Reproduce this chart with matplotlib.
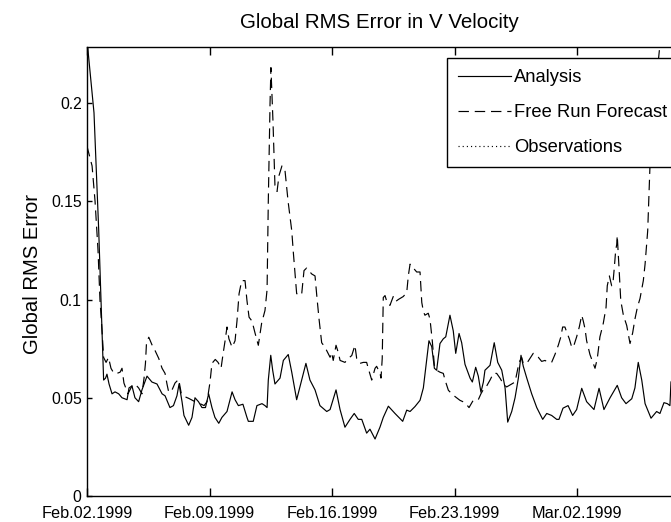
import matplotlib
matplotlib.use("Agg")
import matplotlib.pyplot as plt
from matplotlib import font_manager as fm
from matplotlib.ticker import FixedLocator

# ---------------- data ----------------
# time in days since Feb.02.1999 00:00
analysis_days = [0.00, 0.40, 0.67, 0.86, 0.95, 1.06, 1.14, 1.26, 1.43, 1.60, 1.81, 2.00, 2.29, 2.40,
                 2.57, 2.74, 2.95, 3.14, 3.43, 3.71, 4.00, 4.29, 4.46, 4.74, 4.94, 5.14, 5.26, 5.43,
                 5.54, 5.81, 6.00, 6.17, 6.37, 6.57, 6.77, 6.95, 7.14, 7.31, 7.53, 7.71, 8.00, 8.29,
                 8.46, 8.65, 8.91, 9.14, 9.22, 9.50, 9.71, 10.00, 10.17, 10.29, 10.36, 10.50, 10.61,
                 10.74, 11.03, 11.22, 11.50, 11.70, 11.98, 12.27, 12.51, 12.74, 13.03, 13.31, 13.70,
                 13.89, 14.23, 14.46, 14.74, 15.03, 15.27, 15.50, 15.70, 15.98, 16.17, 16.46, 16.74,
                 16.93, 17.22, 17.60, 18.04, 18.27, 18.46, 18.74, 19.03, 19.22, 19.41, 19.54, 19.70,
                 19.85, 19.98, 20.17, 20.36, 20.50, 20.74, 20.93, 21.07, 21.26, 21.41, 21.60, 21.89,
                 22.02, 22.21, 22.36, 22.51, 22.65, 22.74, 23.03, 23.27, 23.47, 23.70, 23.89, 24.04,
                 24.27, 24.46, 24.65, 24.80, 24.93, 25.13, 25.41, 25.70, 26.04, 26.27, 26.55, 26.84,
                 26.97, 27.20, 27.49, 27.75, 27.98, 28.27, 28.55, 28.97, 29.26, 29.54, 29.89, 30.30,
                 30.55, 30.80, 31.13, 31.31, 31.50, 31.70, 31.89, 32.23, 32.55, 32.74, 32.97, 33.16,
                 33.31, 33.37, 33.49]
analysis_rms = [0.232, 0.195, 0.135, 0.084, 0.059, 0.060, 0.062, 0.057, 0.052, 0.053, 0.052, 0.050,
                0.049, 0.055, 0.056, 0.050, 0.048, 0.054, 0.061, 0.058, 0.057, 0.052, 0.051, 0.045,
                0.046, 0.051, 0.057, 0.048, 0.041, 0.036, 0.040, 0.050, 0.048, 0.045, 0.045, 0.052,
                0.045, 0.040, 0.037, 0.040, 0.043, 0.053, 0.049, 0.046, 0.0467, 0.040, 0.038, 0.038,
                0.046, 0.047, 0.046, 0.045, 0.059, 0.0716, 0.064, 0.057, 0.060, 0.069, 0.072, 0.063,
                0.049, 0.059, 0.0675, 0.059, 0.054, 0.046, 0.043, 0.044, 0.054, 0.044, 0.035, 0.039,
                0.042, 0.039, 0.039, 0.032, 0.034, 0.029, 0.035, 0.040, 0.0457, 0.042, 0.038, 0.0437,
                0.043, 0.0455, 0.0487, 0.055, 0.069, 0.079, 0.076, 0.065, 0.064, 0.0776, 0.080, 0.081,
                0.092, 0.084, 0.0726, 0.0827, 0.078, 0.067, 0.060, 0.058, 0.0655, 0.061, 0.0528, 0.058,
                0.064, 0.0665, 0.078, 0.068, 0.064, 0.055, 0.0376, 0.043, 0.050, 0.060, 0.0716, 0.066,
                0.060, 0.052, 0.045, 0.039, 0.042, 0.041, 0.039, 0.039, 0.0447, 0.046, 0.041, 0.044,
                0.0548, 0.048, 0.044, 0.0548, 0.044, 0.050, 0.0563, 0.050, 0.047, 0.0495, 0.055, 0.068,
                0.059, 0.047, 0.0396, 0.043, 0.042, 0.0475, 0.047, 0.046, 0.058, 0.060]

forecast_days = [0.00, 0.29, 0.46, 0.63, 0.74, 0.86, 0.95, 1.09, 1.23, 1.37, 1.54, 1.71, 1.89, 2.00,
                 2.11, 2.34, 2.57, 2.74, 2.95, 3.14, 3.26, 3.34, 3.40, 3.53, 3.71, 3.89, 4.10, 4.29,
                 4.46, 4.57, 4.67, 4.86, 5.03, 5.24, 5.39, 5.60, 5.81, 6.17, 6.46, 6.69, 6.86, 7.03,
                 7.14, 7.33, 7.49, 7.66, 7.77, 7.89, 8.00, 8.11, 8.29, 8.46, 8.57, 8.69, 8.84, 9.03,
                 9.14, 9.26, 9.43, 9.60, 9.79, 9.98, 10.17, 10.29, 10.36, 10.46, 10.51, 10.63, 10.74,
                 10.86, 10.97, 11.14, 11.31, 11.49, 11.70, 11.79, 11.89, 11.98, 12.17, 12.27, 12.40,
                 12.55, 12.84, 13.03, 13.14, 13.26, 13.41, 13.60, 13.89, 13.98, 14.07, 14.23, 14.36,
                 14.46, 14.74, 14.93, 15.13, 15.31, 15.41, 15.60, 15.79, 15.98, 16.07, 16.27, 16.46,
                 16.55, 16.74, 16.80, 16.87, 16.93, 17.03, 17.13, 17.31, 17.50, 17.64, 17.79, 18.07,
                 18.27, 18.36, 18.46, 18.65, 18.84, 19.03, 19.13, 19.22, 19.31, 19.50, 19.60, 19.66,
                 19.73, 19.85, 19.98, 20.17, 20.36, 20.46, 20.65, 20.93, 21.31, 21.60, 21.83, 22.07,
                 22.36, 22.51, 22.70, 22.84, 23.03, 23.22, 23.41, 23.60, 23.79, 23.98, 24.27, 24.46,
                 24.69, 24.84, 24.93, 25.13, 25.31, 25.50, 25.79, 25.98, 26.17, 26.36, 26.55, 26.74,
                 26.93, 27.07, 27.18, 27.31, 27.43, 27.56, 27.70, 27.79, 27.98, 28.13, 28.27, 28.36,
                 28.46, 28.55, 28.74, 28.93, 29.03, 29.16, 29.31, 29.50, 29.66, 29.73, 29.85, 29.98,
                 30.06, 30.13, 30.21, 30.27, 30.30, 30.36, 30.42, 30.50, 30.65, 30.84, 31.03, 31.18,
                 31.31, 31.45, 31.60, 31.79, 31.89, 31.98, 32.04, 32.17, 32.46, 32.80, 33.03]
forecast_rms = [0.178, 0.168, 0.150, 0.125, 0.100, 0.084, 0.0705, 0.068, 0.0705, 0.065, 0.0624, 0.0624,
                0.063, 0.065, 0.0575, 0.052, 0.056, 0.057, 0.055, 0.052, 0.060, 0.0675, 0.078, 0.0808,
                0.077, 0.074, 0.070, 0.065, 0.0624, 0.057, 0.0528, 0.054, 0.0575, 0.0594, 0.052, 0.0505,
                0.0497, 0.048, 0.047, 0.046, 0.048, 0.058, 0.0675, 0.0695, 0.068, 0.065, 0.072, 0.079,
                0.086, 0.080, 0.0757, 0.079, 0.089, 0.103, 0.1096, 0.1096, 0.0995, 0.091, 0.089, 0.083,
                0.0767, 0.088, 0.0944, 0.105, 0.150, 0.200, 0.218, 0.190, 0.158, 0.155, 0.163, 0.168,
                0.166, 0.150, 0.135, 0.124, 0.113, 0.103, 0.102, 0.103, 0.1147, 0.116, 0.113, 0.112,
                0.101, 0.090, 0.078, 0.0757, 0.0706, 0.073, 0.069, 0.0767, 0.073, 0.069, 0.068, 0.070,
                0.0715, 0.0767, 0.070, 0.0675, 0.068, 0.068, 0.065, 0.059, 0.065, 0.066, 0.0625, 0.060,
                0.070, 0.101, 0.102, 0.099, 0.097, 0.1015, 0.099, 0.100, 0.1015, 0.1035, 0.112, 0.118,
                0.116, 0.114, 0.114, 0.0985, 0.094, 0.092, 0.093, 0.090, 0.085, 0.079, 0.0665, 0.064,
                0.063, 0.0624, 0.059, 0.0538, 0.0513, 0.0487, 0.0475, 0.045, 0.0487, 0.049, 0.052,
                0.055, 0.056, 0.059, 0.0624, 0.0624, 0.060, 0.057, 0.0555, 0.057, 0.058, 0.068, 0.0705,
                0.0675, 0.0675, 0.070, 0.0726, 0.0706, 0.0685, 0.069, 0.068, 0.068, 0.072, 0.0767,
                0.0808, 0.086, 0.086, 0.083, 0.080, 0.0757, 0.0757, 0.081, 0.086, 0.092, 0.089, 0.085,
                0.079, 0.072, 0.0675, 0.065, 0.070, 0.081, 0.0878, 0.096, 0.107, 0.112, 0.107, 0.109,
                0.116, 0.125, 0.128, 0.1325, 0.123, 0.113, 0.0995, 0.092, 0.0868, 0.0776, 0.083, 0.090,
                0.096, 0.1005, 0.1096, 0.118, 0.128, 0.135, 0.168, 0.205, 0.235, 0.250]

observation_days = []
observation_rms = []

xtick_days = [0, 7, 14, 21, 28]
xtick_labels = ["Feb.02.1999", "Feb.09.1999", "Feb.16.1999", "Feb.23.1999", "Mar.02.1999"]
ytick_values = [0, 0.05, 0.1, 0.15, 0.2]
ytick_labels = ["0", "0.05", "0.1", "0.15", "0.2"]

title_text = "Global RMS Error in V Velocity"
ylabel_text = "Global RMS Error"
series_labels = ["Analysis", "Free Run Forecast", "Observations"]

# ---------------- fonts ----------------
installed = {f.name for f in fm.fontManager.ttflist}
main_font = "Liberation Sans" if "Liberation Sans" in installed else "DejaVu Sans"
plt.rcParams["font.family"] = [main_font, "DejaVu Sans"]
plt.rcParams["lines.scale_dashes"] = False

W, H = 671, 522
fig = plt.figure(figsize=(W / 100, H / 100), dpi=100, facecolor="white")
ax_left, ax_right, ax_top, ax_bottom = 87, 681, 47, 496
ax = fig.add_axes([ax_left / W, 1 - ax_bottom / H, (ax_right - ax_left) / W, (ax_bottom - ax_top) / H])

ax.plot(analysis_days, analysis_rms, color="black", lw=0.85, label=series_labels[0])
ax.plot(forecast_days, forecast_rms, color="black", lw=0.85, dashes=(7.5, 4.2), label=series_labels[1])
ax.plot(observation_days, observation_rms, color="black", lw=0.85, dashes=(0.8, 2.2), label=series_labels[2])

ax.set_xlim(0, (ax_right - ax_left) / 17.5)
ax.set_ylim(0, 0.2285)

ax.xaxis.set_major_locator(FixedLocator(xtick_days))
ax.set_xticklabels(xtick_labels, fontsize=11.7)
ax.yaxis.set_major_locator(FixedLocator(ytick_values))
ax.set_yticklabels(ytick_labels, fontsize=11.3)
ax.tick_params(axis="both", direction="in", top=True, right=True, colors="black", width=1.0)
ax.tick_params(axis="x", length=6, pad=7.0)
ax.tick_params(axis="y", length=3.6, pad=3.8)
for s in ax.spines.values():
    s.set_linewidth(1.0)
    s.set_color("black")

fig.text(379 / W, 1 - 28 / H, title_text, ha="center", va="baseline", fontsize=14.8)
fig.text(32.5 / W, 1 - 274 / H, ylabel_text, ha="center", va="center", rotation=90, fontsize=14.6)

leg = ax.legend(loc="upper left", bbox_to_anchor=(447 / W, 1 - 58 / H - 0.01, (675 - 447) / W, 0.01),
                bbox_transform=fig.transFigure, mode="expand", fancybox=False, shadow=False,
                framealpha=1, edgecolor="black", fontsize=13.2, handlelength=2.85,
                handletextpad=0.2, labelspacing=0.97, borderpad=0.62, borderaxespad=0)
leg.get_frame().set_linewidth(1.0)

fig.savefig("out.png", dpi=100, facecolor="white")
